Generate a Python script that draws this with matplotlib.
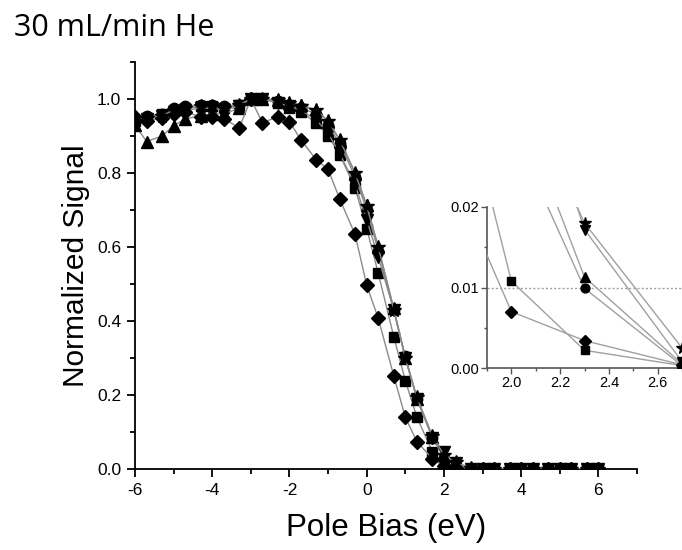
import matplotlib
matplotlib.use("Agg")
import matplotlib.pyplot as plt
from matplotlib.ticker import MultipleLocator

plt.rcParams['font.family'] = ['Liberation Sans', 'DejaVu Sans']

# Pole bias values (eV)
bias = [-6, -5.7, -5.3, -5, -4.7, -4.3, -4, -3.7, -3.3, -3, -2.7, -2.3, -2,
        -1.7, -1.3, -1, -0.7, -0.3, 0, 0.3, 0.7, 1, 1.3, 1.7, 2, 2.3, 2.7,
        3, 3.3, 3.7, 4, 4.3, 4.7, 5, 5.3, 5.7, 6]

sig_square = [0.94, 0.95, 0.96, 0.97, 0.975, 0.98, 0.98, 0.975, 0.985, 1.0, 1.0, 0.99, 0.975,
              0.965, 0.935, 0.90, 0.85, 0.759, 0.65, 0.529, 0.358, 0.239, 0.14, 0.047, 0.0108, 0.0022, 0.0003,
              0.0003, 0.0003, 0.0003, 0.0003, 0.0003, 0.0003, 0.0003, 0.0003, 0.0003, 0.0003]
sig_circle = [0.945, 0.955, 0.96, 0.975, 0.98, 0.985, 0.985, 0.98, 0.985, 1.0, 1.0, 0.995, 0.985,
              0.975, 0.96, 0.93, 0.88, 0.79, 0.70, 0.59, 0.43, 0.305, 0.19, 0.085, 0.030, 0.0099, 0.0003,
              0.0003, 0.0003, 0.0003, 0.0003, 0.0003, 0.0003, 0.0003, 0.0003, 0.0003, 0.0003]
sig_triangle = [0.93, 0.885, 0.90, 0.928, 0.946, 0.955, 0.96, 0.96, 0.975, 1.0, 1.0, 0.997, 0.99,
                0.984, 0.97, 0.94, 0.89, 0.80, 0.714, 0.60, 0.435, 0.30, 0.19, 0.087, 0.035, 0.0113, 0.0005,
                0.0003, 0.0003, 0.0003, 0.0003, 0.0003, 0.0003, 0.0003, 0.0003, 0.0003, 0.0003]
sig_tridown = [0.935, 0.945, 0.955, 0.965, 0.97, 0.975, 0.975, 0.97, 0.98, 1.0, 1.0, 0.99, 0.98,
               0.97, 0.943, 0.907, 0.853, 0.768, 0.674, 0.572, 0.43, 0.30, 0.19, 0.085, 0.045, 0.0172, 0.0008,
               0.0003, 0.0003, 0.0003, 0.0003, 0.0003, 0.0003, 0.0003, 0.0003, 0.0003, 0.0003]
sig_diamond = [0.952, 0.94, 0.95, 0.96, 0.965, 0.952, 0.952, 0.947, 0.922, 1.0, 0.936, 0.952, 0.939,
               0.889, 0.835, 0.81, 0.73, 0.634, 0.497, 0.407, 0.252, 0.14, 0.074, 0.028, 0.007, 0.0034, 0.0004,
               0.0003, 0.0003, 0.0003, 0.0003, 0.0003, 0.0003, 0.0003, 0.0003, 0.0003, 0.0003]
sig_star = [0.94, 0.95, 0.955, 0.97, 0.975, 0.98, 0.98, 0.975, 0.985, 1.0, 1.0, 0.997, 0.99,
            0.98, 0.97, 0.94, 0.89, 0.80, 0.71, 0.60, 0.43, 0.30, 0.195, 0.09, 0.038, 0.018, 0.0025,
            0.0003, 0.0003, 0.0003, 0.0003, 0.0003, 0.0003, 0.0003, 0.0003, 0.0003, 0.0003]

series = [(sig_square, 's'), (sig_circle, 'o'), (sig_triangle, '^'),
          (sig_tridown, 'v'), (sig_diamond, 'D'), (sig_star, '*')]
marker_sizes = {'s': 7, 'o': 7.5, '^': 8, 'v': 8, 'D': 7.5, '*': 10}

title_text = "30 mL/min He"
x_label = "Pole Bias (eV)"
y_label = "Normalized Signal"

fig = plt.figure(figsize=(6.82, 5.5), dpi=100)
ax = fig.add_axes([135/682, 1-469/550, (637-135)/682, (469-62)/550])

for vals, m in series:
    ax.plot(bias, vals, color='#8a8a8a', lw=1.0, marker=m, ms=marker_sizes[m],
            mfc='black', mec='black', zorder=3)

ax.set_xlim(-6, 7)
ax.set_ylim(0, 1.1)
ax.xaxis.set_major_locator(MultipleLocator(2))
ax.xaxis.set_minor_locator(MultipleLocator(1))
ax.yaxis.set_major_locator(MultipleLocator(0.2))
ax.yaxis.set_minor_locator(MultipleLocator(0.1))
ax.set_xticks([-6, -4, -2, 0, 2, 4, 6])
ax.set_xticklabels(['-6', '-4', '-2', '0', '2', '4', '6'])
ax.set_yticks([0.0, 0.2, 0.4, 0.6, 0.8, 1.0])
ax.set_yticklabels(['0.0', '0.2', '0.4', '0.6', '0.8', '1.0'])
for s in ['top', 'right']:
    ax.spines[s].set_visible(False)
for s in ['left', 'bottom']:
    ax.spines[s].set_linewidth(1.3)
ax.tick_params(which='major', direction='out', length=6, width=1.3, labelsize=12.5, pad=4)
ax.tick_params(which='minor', direction='out', length=3.5, width=1.3)
ax.set_xlabel(x_label, fontsize=22.5, labelpad=11)
ax.set_ylabel(y_label, fontsize=21.5, labelpad=5)

fig.text(14/682, 1-36/550, title_text, fontsize=22, family=['Open Sans', 'DejaVu Sans'],
         ha='left', va='baseline')

# Inset
ins = fig.add_axes([487/682, 1-368/550, 195/682, 161/550])
for vals, m in series:
    ins.plot(bias, vals, color='#a0a0a0', lw=1.0, marker=m, ms=marker_sizes[m]*0.85,
             mfc='black', mec='black', zorder=3)
ins.axhline(0.01, color='#a0a0a0', lw=1.0, ls=(0, (1.5, 1.5)), zorder=1)
ins.set_xlim(1.9, 2.7)
ins.set_ylim(0, 0.02)
ins.set_xticks([2.0, 2.2, 2.4, 2.6])
ins.set_xticklabels(['2.0', '2.2', '2.4', '2.6'])
ins.xaxis.set_minor_locator(MultipleLocator(0.1))
ins.set_yticks([0.0, 0.01, 0.02])
ins.set_yticklabels(['0.00', '0.01', '0.02'])
ins.yaxis.set_minor_locator(MultipleLocator(0.005))
for s in ['top', 'right']:
    ins.spines[s].set_visible(False)
for s in ['left', 'bottom']:
    ins.spines[s].set_linewidth(1.2)
    ins.spines[s].set_color('#555555')
ins.tick_params(which='major', direction='out', length=4, width=1.0, labelsize=10.5,
                pad=2, color='#555555')
ins.tick_params(which='minor', direction='out', length=2.5, width=1.0, color='#555555')

fig.savefig('out.png', dpi=100)
